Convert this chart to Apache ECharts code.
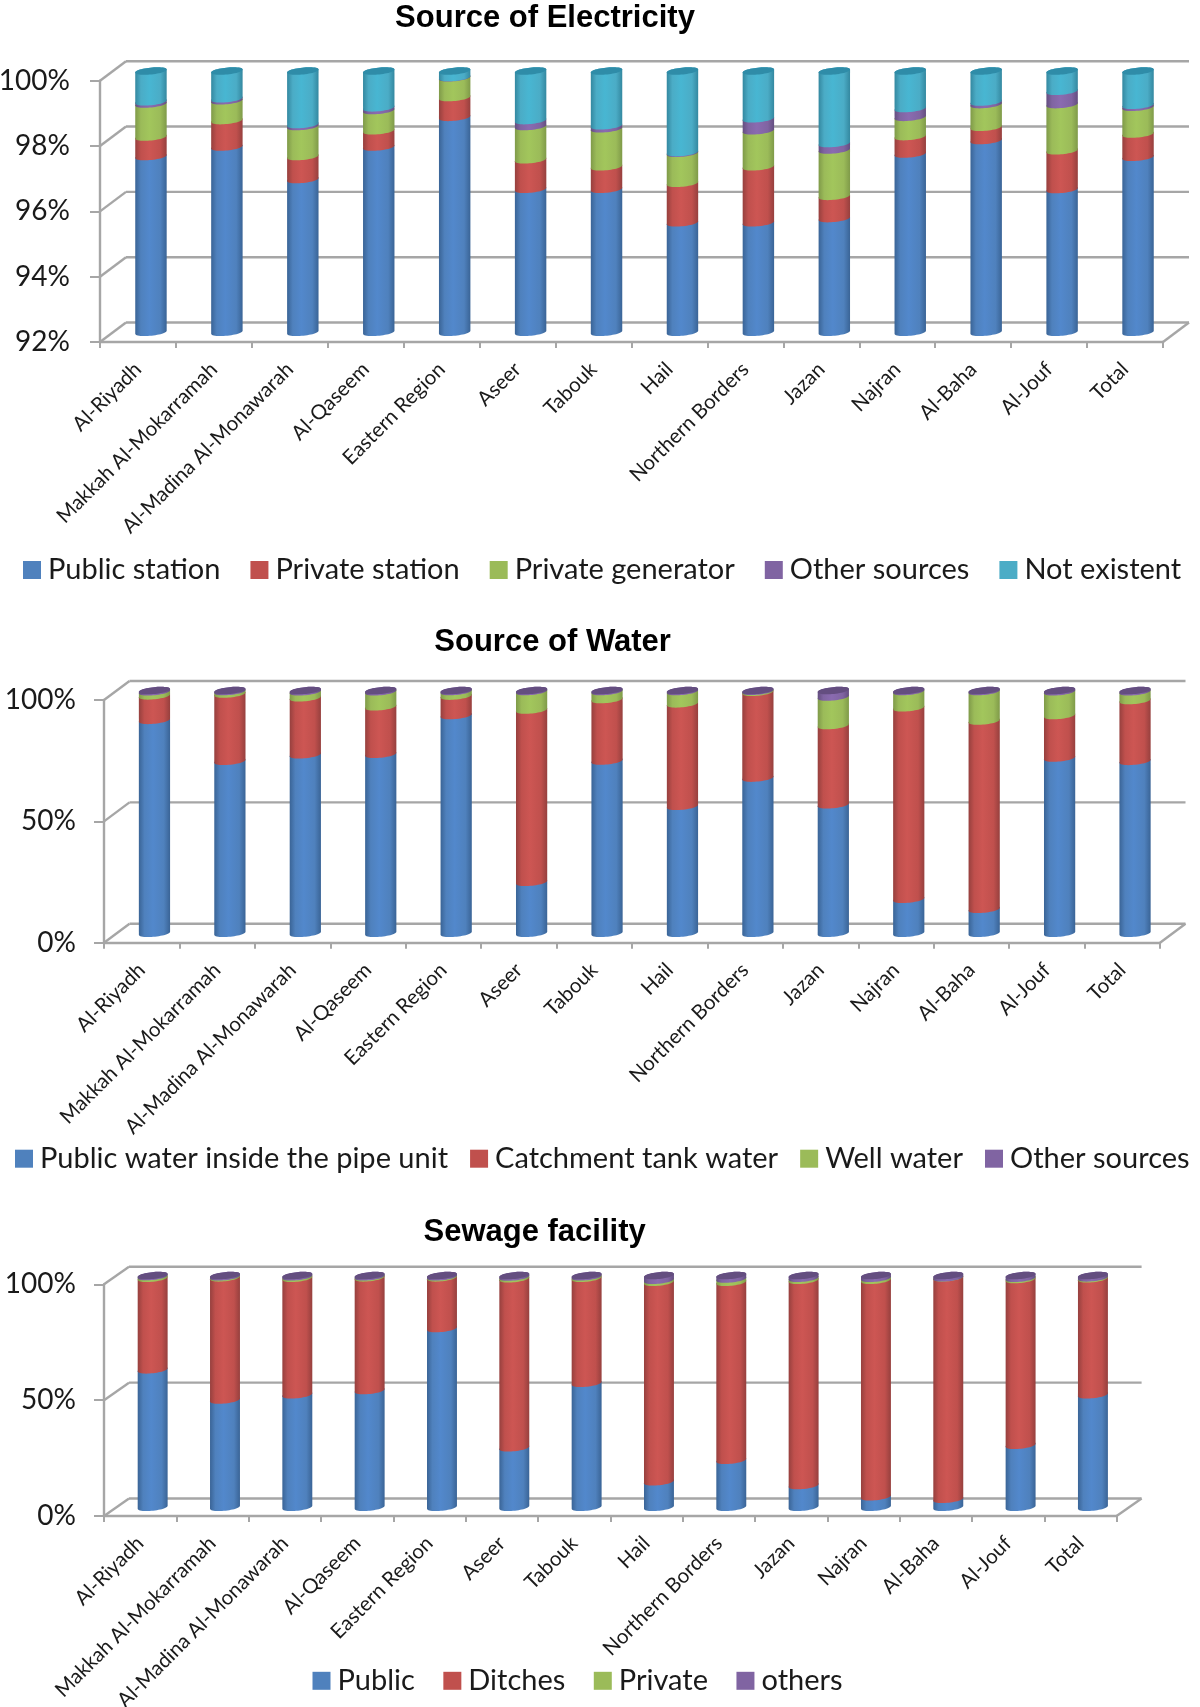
<!DOCTYPE html>
<html>
<head>
<meta charset="utf-8">
<script src="https://cdn.jsdelivr.net/npm/echarts@6/dist/echarts.min.js"></script>
<style>html,body{margin:0;padding:0;background:#fff}#c{width:1200px;height:1707px}</style>
</head>
<body>
<div id="c"></div>
<script>
const categories = ['Al-Riyadh','Makkah Al-Mokarramah','Al-Madina Al-Monawarah','Al-Qaseem','Eastern Region','Aseer','Tabouk','Hail','Northern Borders','Jazan','Najran','Al-Baha','Al-Jouf','Total'];

const elecPublic = [97.38,97.67,96.68,97.67,98.58,96.38,96.38,95.35,95.35,95.48,97.46,97.87,96.37,97.36];
const elecPrivateStation = [0.60,0.81,0.70,0.50,0.61,0.90,0.69,1.21,1.72,0.68,0.53,0.41,1.19,0.71];
const elecGenerator = [1.01,0.61,0.92,0.62,0.60,1.02,1.16,0.92,1.10,1.42,0.59,0.69,1.41,0.82];
const elecOther = [0.07,0.06,0.06,0.08,0.01,0.18,0.09,0.02,0.37,0.20,0.27,0.08,0.41,0.06];
const elecNone = [0.94,0.85,1.64,1.13,0.20,1.52,1.68,2.50,1.46,2.22,1.15,0.95,0.62,1.05];

const waterPipe = [87.7,70.9,73.5,73.7,89.7,21,71,52.3,63.9,52.9,14,9.9,72.2,70.8];
const waterTank = [10.1,27.7,23.5,19.6,8,71,25.3,42.2,35.4,32.7,78.9,77.5,17.5,25.1];
const waterWell = [1.7,1,2.5,6.2,1.9,7.6,3.3,5.1,0.4,11.7,6.7,12.2,9.8,3.6];
const waterOther = [0.5,0.4,0.5,0.5,0.4,0.4,0.4,0.4,0.3,2.7,0.4,0.4,0.5,0.5];

const sewagePublic = [59.3,46.3,48.6,50.4,77.2,25.7,53.5,11,20.3,9.4,4.5,3.5,26.8,48.6];
const sewageDitches = [39.5,52.7,50.2,48.6,21.8,72.9,45.3,86.1,76.8,88.6,93.5,95.5,71.5,50];
const sewagePrivate = [0.8,0.5,0.7,0.5,0.5,0.8,0.7,0.9,1.4,0.8,0.8,0.1,0.5,0.4];
const sewageOthers = [0.4,0.5,0.5,0.5,0.5,0.6,0.5,2,1.5,1.2,1.2,0.9,1.2,1];

const BLUE = {base:'#4F81BD', mid:'#5288CC', edge:'#3A6496', cap:'#3A6496'};
const RED = {base:'#C0504D', mid:'#CD5653', edge:'#96403E', cap:'#96403E'};
const GREEN = {base:'#9BBB59', mid:'#A2C65C', edge:'#7F9A49', cap:'#7F9A49'};
const PURPLE = {base:'#8064A2', mid:'#8A6BB0', edge:'#644E80', cap:'#644E80'};
const TEAL = {base:'#4BACC6', mid:'#48B6D2', edge:'#3488A0', cap:'#2F8CA8'};
const AXIS = '#A6A6A6';
const FONT = 'Lato';

const charts = [
  {title:'Source of Electricity', titleX:540, titleTop:-2, left:100, right:1163, top:80.7, bottom:342, dx:26, dy:-19.5,
   min:92, max:100, step:2, legendLeft:23, legendTop:555.5, legendGap:30, yMargin:30, yPad:6,
   series:[['Public station',elecPublic,BLUE],['Private station',elecPrivateStation,RED],['Private generator',elecGenerator,GREEN],['Other sources',elecOther,PURPLE],['Not existent',elecNone,TEAL]]},
  {title:'Source of Water', titleX:547.6, titleTop:622, left:104, right:1160, top:700, bottom:942.7, dx:25.5, dy:-19,
   min:0, max:100, step:50, legendLeft:15, legendTop:1144.2, legendGap:22, yMargin:28, yPad:8,
   series:[['Public water inside the pipe unit',waterPipe,BLUE],['Catchment tank water',waterTank,RED],['Well water',waterWell,GREEN],['Other sources',waterOther,PURPLE]]},
  {title:'Sewage facility', titleX:529.6, titleTop:1212, left:104, right:1116.6, top:1284.3, bottom:1516, dx:25, dy:-17.5,
   min:0, max:100, step:50, legendLeft:312.5, legendTop:1666.3, legendGap:28.5, yMargin:28, yPad:8,
   series:[['Public',sewagePublic,BLUE],['Ditches',sewageDitches,RED],['Private',sewagePrivate,GREEN],['others',sewageOthers,PURPLE]]}
];

function gradient(c){
  return {type:'linear',x:0,y:0,x2:1,y2:0,colorStops:[
    {offset:0,color:c.edge},{offset:0.18,color:c.base},{offset:0.45,color:c.mid},
    {offset:0.8,color:c.base},{offset:1,color:c.edge}]};
}

function segmentItem(ch, pal){
  return function(params, api){
    const cat = api.value(0), from = api.value(1), to = api.value(2);
    const w = api.size([1,0])[0]*0.414/2;
    const a = api.coord([cat, from]), b = api.coord([cat, to]);
    const cx = a[0] + ch.dx/2, y0 = a[1] + ch.dy/2, y1 = b[1] + ch.dy/2;
    const t = 1.5, k = 4.6;
    const Lx = cx-w, Rx = cx+w;
    const body = `M${Lx} ${y0+t} C${Lx} ${y0+t+k} ${Rx} ${y0-t+k} ${Rx} ${y0-t} L${Rx} ${y1-t} C${Rx} ${y1-t-k} ${Lx} ${y1+t-k} ${Lx} ${y1+t} Z`;
    const children = [{type:'path',shape:{pathData:body},style:{fill:gradient(pal)}}];
    if (to >= ch.max - 0.001) {
      const cap = `M${Lx} ${y1+t} C${Lx} ${y1+t+k} ${Rx} ${y1-t+k} ${Rx} ${y1-t} C${Rx} ${y1-t-k} ${Lx} ${y1+t-k} ${Lx} ${y1+t} Z`;
      children.push({type:'path',shape:{pathData:cap},style:{fill:pal.cap}});
    }
    return {type:'group',children};
  };
}

function frameItem(ch){
  return function(params, api){
    const v = api.value(0);
    const y = api.coord([0, v])[1];
    const cs = params.coordSys;
    const x0 = cs.x, x1 = cs.x + cs.width;
    const st = {stroke:AXIS, lineWidth:2.4, fill:null};
    const children = [
      {type:'line',shape:{x1:x0,y1:y,x2:x0+ch.dx,y2:y+ch.dy},style:st},
      {type:'line',shape:{x1:x0+ch.dx,y1:y+ch.dy,x2:x1+ch.dx,y2:y+ch.dy},style:st}
    ];
    if (v === ch.min) children.push({type:'line',shape:{x1:x1,y1:y,x2:x1+ch.dx,y2:y+ch.dy},style:st});
    return {type:'group',children};
  };
}

const option = {
  backgroundColor:'#fff', animation:false,
  title:[], legend:[], grid:[], xAxis:[], yAxis:[], series:[]
};

charts.forEach((ch,i)=>{
  option.title.push({text:ch.title,left:ch.titleX,top:ch.titleTop,textAlign:'center',
    textStyle:{fontFamily:'Liberation Sans',fontWeight:'bold',fontSize:31,color:'#000'}});
  option.legend.push({data:ch.series.map(s=>s[0]),left:ch.legendLeft,top:ch.legendTop,itemGap:ch.legendGap,padding:0,
    itemWidth:18,itemHeight:18,icon:'rect',selectedMode:false,orient:'horizontal',
    textStyle:{fontFamily:FONT,fontSize:29,color:'#1a1a1a',padding:[0,0,0,2]}});
  option.grid.push({left:ch.left,top:ch.top,width:ch.right-ch.left,height:ch.bottom-ch.top,containLabel:false,outerBoundsMode:'none'});
  option.xAxis.push({type:'category',gridIndex:i,data:categories,boundaryGap:true,
    axisLine:{lineStyle:{color:AXIS,width:2.4}},
    axisTick:{show:true,alignWithLabel:false,interval:0,length:6,lineStyle:{color:AXIS,width:2}},
    axisLabel:{interval:0,rotate:45,margin:24,fontFamily:FONT,fontSize:20.5,color:'#1a1a1a',hideOverlap:false},
    splitLine:{show:false}});
  option.yAxis.push({type:'value',gridIndex:i,min:ch.min,max:ch.max,interval:ch.step,
    axisLine:{show:true,lineStyle:{color:AXIS,width:2.4}},
    axisTick:{show:true,length:10,lineStyle:{color:AXIS,width:2}},
    axisLabel:{margin:ch.yMargin,fontFamily:FONT,fontSize:28,color:'#1a1a1a',formatter:'{value}%',padding:[ch.yPad,0,0,0]},
    splitLine:{show:false}});
  const ticks=[]; for(let v=ch.min;v<=ch.max;v+=ch.step) ticks.push([v]);
  option.series.push({type:'custom',name:'frame'+i,xAxisIndex:i,yAxisIndex:i,z:1,silent:true,
    data:ticks,encode:{y:0},renderItem:frameItem(ch)});
  const run = categories.map(()=>ch.min);
  ch.series.forEach((s,si)=>{
    const data = s[1].map((v,k)=>{
      const start = si===0 ? ch.min : run[k];
      let end = si===0 ? v : run[k]+v;
      if (si===ch.series.length-1) end = ch.max;
      run[k]=end;
      return [k,start,end];
    });
    option.series.push({type:'custom',name:s[0],xAxisIndex:i,yAxisIndex:i,z:3,
      itemStyle:{color:s[2].base},data,encode:{x:0,y:[1,2]},renderItem:segmentItem(ch,s[2])});
  });
});

const chart = echarts.init(document.getElementById('c'),null,{renderer:'canvas'});
chart.setOption(option);
</script>
</body>
</html>
